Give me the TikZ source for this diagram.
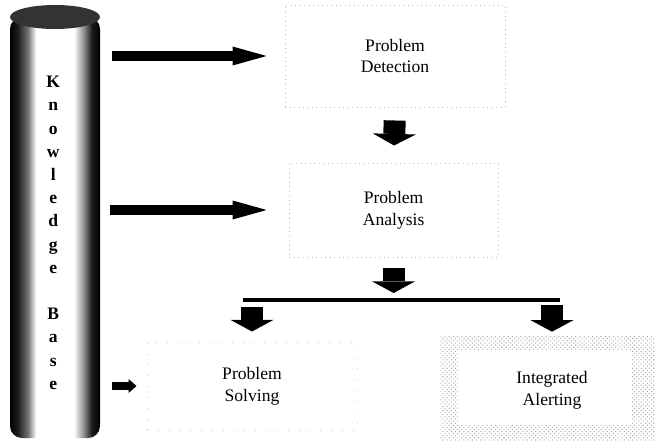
\documentclass[tikz,border=0pt]{standalone}
\usepackage{fontspec}
\setmainfont{Liberation Serif}
\usetikzlibrary{arrows.meta,patterns}

% light strip down the middle of the knowledge base
\pgfdeclarehorizontalshading{kbshade}{100bp}{color(0bp)=(black); color(25bp)=(black);
  color(29bp)=(black!90); color(35bp)=(black!55); color(39.5bp)=(white);
  color(60.5bp)=(white); color(66bp)=(black!45); color(70.5bp)=(black!90);
  color(75bp)=(black); color(100bp)=(black)}

\tikzset{
  kbbody/.style={rectangle, rounded corners=0.3cm, inner sep=0pt,
    minimum width=2.25cm, minimum height=10.525cm, shade, shading=kbshade},
  kbletters/.style={align=center, font=\fontsize{12.5pt}{16.5pt}\selectfont\bfseries},
  stepbox/.style={draw=gray!55, line width=0.7pt, dash pattern=on 0.7pt off 2.5pt,
    align=center, font=\fontsize{12.5pt}{15.6pt}\selectfont},
  faintbox/.style={stepbox, draw=gray!40, dash pattern=on 0.7pt off 7pt},
  alertbox/.style={align=center, font=\fontsize{12.5pt}{15.6pt}\selectfont},
  sidearrow/.style={line width=0.25cm, -{Triangle[length=0.85cm, width=0.475cm, line width=0pt]}},
  tinyarrow/.style={line width=0.2cm, -{Triangle[length=0.2cm, width=0.35cm, line width=0pt]}},
  downarrow/.style={line width=0.55cm, -{Triangle[length=0.29cm, width=1.075cm, line width=0pt]}},
  barline/.style={line width=0.1cm}
}

\begin{document}
\begin{tikzpicture}
  \useasboundingbox (0,0) rectangle (16.375,-11);

  % knowledge base
  \node[kbbody] (kb) at (1.375,-5.6875) {};
  \fill[black!80] (1.375,-0.425) ellipse [x radius=1.125, y radius=0.3];
  \node[kbletters] (kbtext) at (1.33,-5.82) {K\\n\\o\\w\\l\\e\\d\\g\\e\\[16.5pt]B\\a\\s\\e};

  % boxes
  \node[stepbox, minimum width=5.5cm, minimum height=2.55cm] (detect) at (9.875,-1.4) {Problem\\Detection};
  \node[stepbox, minimum width=5.225cm, minimum height=2.35cm] (analysis) at (9.84,-5.25) {Problem\\Analysis};
  \node[faintbox, minimum width=5.25cm, minimum height=2.2cm] (solve) at (6.3,-9.65) {Problem\\Solving};
  \node[alertbox, minimum width=5.55cm, minimum height=2.7cm] (alert) at (13.8,-9.75) {Integrated\\Alerting};
  \fill[pattern=crosshatch dots, pattern color=gray!70, even odd rule]
    (alert.north west) rectangle (alert.south east)
    ([xshift=0.42cm,yshift=-0.35cm]alert.north west) rectangle ([xshift=-0.78cm,yshift=0.48cm]alert.south east);

  % arrows out of the knowledge base
  \draw[sidearrow, shorten <=0.3cm, shorten >=0.45cm] (kb.east |- detect.west) -- (detect.west);
  \draw[sidearrow, shorten <=0.25cm, shorten >=0.55cm] (kb.east |- analysis.west) -- (analysis.west);
  \draw[tinyarrow, shorten <=0.3cm, shorten >=0.25cm] (kb.east |- solve.west) -- (solve.west);

  % flow down
  \coordinate (barL) at (6.075,-7.5);
  \coordinate (barR) at (14,-7.5);
  \draw[downarrow, shorten <=0.325cm, shorten >=0.425cm] (detect.south) -- (analysis.north);
  \draw[downarrow, shorten <=0.275cm, shorten >=0.175cm] (analysis.south) -- (analysis.south |- barL);
  \draw[barline] (barL) -- (barR);
  \draw[downarrow, shorten <=0.175cm, shorten >=0.25cm] (solve.north |- barL) -- (solve.north);
  \draw[downarrow, shorten <=0.125cm, shorten >=0.1cm] (alert.north |- barL) -- (alert.north);
\end{tikzpicture}
\end{document}
